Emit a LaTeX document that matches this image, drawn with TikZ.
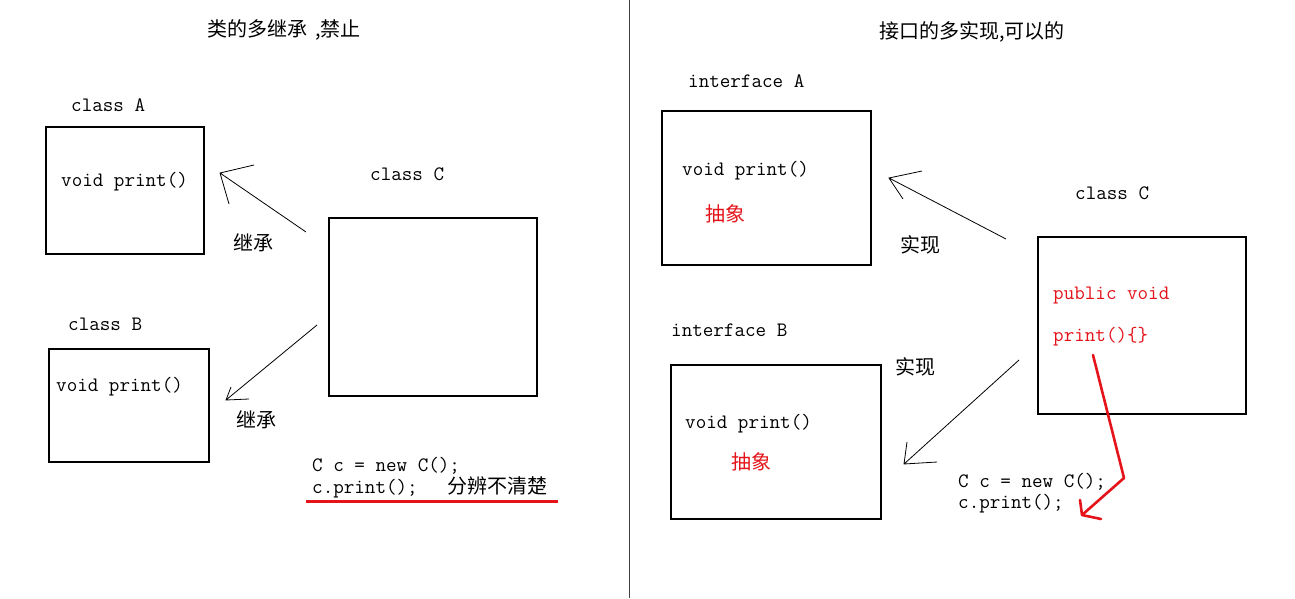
\documentclass[tikz,border=0pt]{standalone}
\usepackage{fontspec}
\newfontfamily\cjk{Noto Sans CJK SC}
\definecolor{penred}{RGB}{228,20,26}
\begin{document}
\begin{tikzpicture}[x=1pt,y=-1pt,
  lbl/.style={anchor=base west,inner sep=0pt,font=\fontsize{20.5}{22}\selectfont\ttfamily},
  zh/.style={anchor=base west,inner sep=0pt,font=\fontsize{20}{22}\selectfont\cjk},
  redlbl/.style={lbl,text=penred},
  redzh/.style={zh,text=penred},
  box/.style={draw,line width=1.3pt,inner sep=0pt},
  pen/.style={line width=0.8pt},
  redpen/.style={draw=penred,line width=2.6pt,line cap=round,line join=round}]
\useasboundingbox (0,0) rectangle (1295,598);
\fill[white] (0,0) rectangle (1295,598);
% divider
\draw[line width=1pt,black!75] (629,0) -- (629,598);

% ---------- left half ----------
\node[zh] (titleL) at (207,36) {类的多继承\hspace{8pt},禁止};
\node[lbl] (lblA) at (71,111) {class A};
\draw[box] (46,127) rectangle (204,254);
\node[lbl] (printA) at (61,186) {void print()};
\node[lbl] (lblC) at (370,180) {class C};
\draw[box] (329,218) rectangle (537,396);
\node[lbl] (lblB) at (68,330) {class B};
\draw[box] (49,349) rectangle (209,462);
\node[lbl] (printB) at (56,391) {void print()};
\node[zh] (inh1) at (233,250) {继承};
\node[zh] (inh2) at (236,427) {继承};

\coordinate (a1s) at (306,232);
\coordinate (a1t) at (220,173);
\coordinate (a1h1) at (254,165);
\coordinate (a1h2) at (229,204);
\draw[pen] (a1s) -- (a1t) (a1h1) -- (a1t) -- (a1h2);

\coordinate (a2s) at (317,325);
\coordinate (a2t) at (226,400);
\coordinate (a2h1) at (231,387);
\coordinate (a2h2) at (249,399);
\draw[pen] (a2s) -- (a2t) (a2h1) -- (a2t) -- (a2h2);

\node[lbl] (codeL1) at (312,471) {C c = new C();};
\node[lbl] (codeL2) at (312,493) {c.print();};
\node[zh] (unclear) at (447,493) {分辨不清楚};
\coordinate (ulS) at (306,501);
\coordinate (ulE) at (558,501);
\draw[redpen,line width=3pt,line cap=butt] (ulS) -- (ulE);

% ---------- right half ----------
\node[zh] (titleR) at (879,38) {接口的多实现,可以的};
\node[lbl] (lblIA) at (688,87) {interface A};
\draw[box] (662,111) rectangle (871,265);
\node[lbl] (printIA) at (682,175) {void print()};
\node[redzh] (absA) at (705,221) {抽象};
\node[zh] (impl1) at (900,252) {实现};
\node[lbl] (lblC2) at (1075,199) {class C};
\draw[box] (1038,237) rectangle (1246,414);
\node[redlbl] (pubv) at (1053,299) {public void};
\node[redlbl] (pbody) at (1053,341) {print()\{\}};
\node[lbl] (lblIB) at (671,336) {interface B};
\node[zh] (impl2) at (895,374) {实现};
\draw[box] (671,365) rectangle (881,519);
\node[lbl] (printIB) at (685,428) {void print()};
\node[redzh] (absB) at (731,469) {抽象};

\coordinate (a3s) at (1006,239);
\coordinate (a3t) at (889,178);
\coordinate (a3h1) at (922,171);
\coordinate (a3h2) at (903,199);
\draw[pen] (a3s) -- (a3t) (a3h1) -- (a3t) -- (a3h2);

\coordinate (a4s) at (1019,360);
\coordinate (a4t) at (904,464);
\coordinate (a4h1) at (907,442);
\coordinate (a4h2) at (937,462);
\draw[pen] (a4s) -- (a4t) (a4h1) -- (a4t) -- (a4h2);

\node[lbl] (codeR1) at (958,487) {C c = new C();};
\node[lbl] (codeR2) at (958,508) {c.print();};

\coordinate (rS) at (1093,355);
\coordinate (rM) at (1124,478);
\coordinate (rT) at (1082,515);
\coordinate (rH1) at (1080,500);
\coordinate (rH2) at (1101,519);
\draw[redpen] (rS) -- (rM) -- (rT);
\draw[redpen] (rH1) -- (rT) -- (rH2);
\end{tikzpicture}
\end{document}
